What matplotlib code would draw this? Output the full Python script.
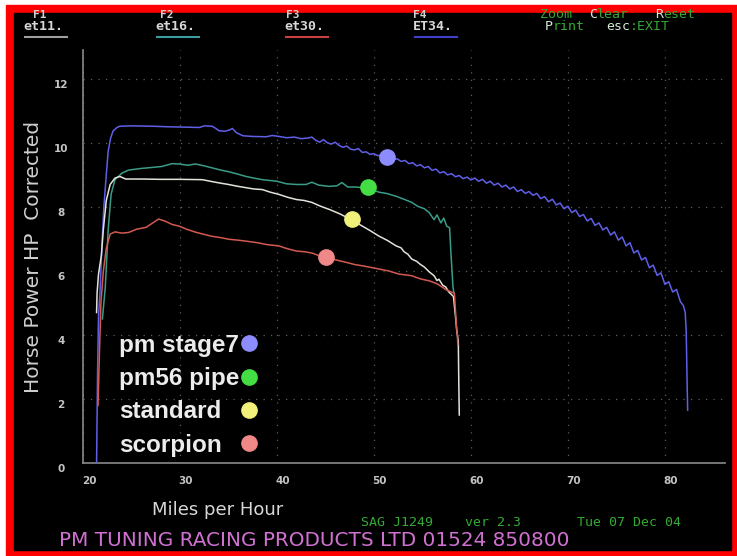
import matplotlib.pyplot as plt
import matplotlib.transforms as mtransforms
from matplotlib.lines import Line2D
from matplotlib.patches import Rectangle

# dyno run data (mph, corrected hp)
stage7_mph = [21.40, 21.50, 21.60, 21.75, 21.95, 22.15, 22.40, 22.60, 22.85, 23.10,
              23.50, 23.80, 25.00, 27.00, 29.00, 30.50, 32.00, 32.50, 33.30, 33.70,
              34.00, 34.60, 35.10, 35.40, 35.80, 36.50, 37.50, 38.90, 39.50, 40.20,
              41.00, 41.80, 42.50, 43.20, 43.60, 44.00, 44.40, 44.80, 45.20, 45.60,
              46.00, 46.40, 46.80, 47.20, 47.60, 48.00, 48.40, 48.80, 49.20, 49.60,
              50.00, 50.40, 50.80, 51.20, 51.60, 52.00, 52.40, 52.80, 53.20, 53.60,
              54.00, 54.40, 54.80, 55.20, 55.60, 56.00, 56.40, 56.80, 57.20, 57.60,
              58.00, 58.40, 58.80, 59.20, 59.60, 60.00, 60.40, 60.80, 61.20, 61.60,
              62.00, 62.40, 62.80, 63.20, 63.60, 64.00, 64.40, 64.80, 65.20, 65.60,
              66.00, 66.40, 66.80, 67.20, 67.60, 68.00, 68.40, 68.80, 69.20, 69.60,
              70.00, 70.40, 70.80, 71.20, 71.60, 72.00, 72.40, 72.80, 73.20, 73.60,
              74.00, 74.40, 74.80, 75.20, 75.60, 76.00, 76.40, 76.80, 77.20, 77.60,
              78.00, 78.40, 78.80, 79.20, 79.60, 80.00, 80.40, 80.80, 81.20, 81.60,
              81.90, 82.10, 82.20, 82.25, 82.30, 82.35]
stage7_hp = [0.00, 2.80, 4.60, 5.30, 6.80, 8.00, 9.00, 9.75, 10.15, 10.37,
             10.48, 10.52, 10.53, 10.52, 10.50, 10.49, 10.48, 10.53, 10.52, 10.45,
             10.38, 10.36, 10.40, 10.45, 10.32, 10.22, 10.20, 10.19, 10.23, 10.20,
             10.16, 10.18, 10.13, 10.15, 10.18, 10.08, 10.02, 10.10, 10.00, 9.96,
             10.02, 9.92, 9.86, 9.90, 9.80, 9.78, 9.82, 9.70, 9.72, 9.64,
             9.66, 9.60, 9.62, 9.54, 9.56, 9.48, 9.50, 9.42, 9.45, 9.35,
             9.38, 9.28, 9.32, 9.22, 9.26, 9.14, 9.18, 9.06, 9.10, 9.00,
             9.04, 8.94, 8.98, 8.88, 8.93, 8.84, 8.90, 8.80, 8.86, 8.74,
             8.80, 8.68, 8.74, 8.62, 8.68, 8.56, 8.62, 8.48, 8.54, 8.42,
             8.48, 8.36, 8.42, 8.26, 8.32, 8.16, 8.24, 8.06, 8.12, 7.94,
             8.02, 7.82, 7.90, 7.70, 7.76, 7.56, 7.64, 7.42, 7.50, 7.28,
             7.36, 7.12, 7.22, 6.96, 7.06, 6.78, 6.88, 6.56, 6.64, 6.34,
             6.42, 6.10, 6.18, 5.86, 5.94, 5.58, 5.66, 5.34, 5.42, 5.04,
             4.92, 4.70, 4.10, 3.20, 2.40, 1.65]

pipe_mph = [22.00, 22.30, 22.60, 22.90, 23.30, 24.00, 24.70, 26.00, 28.10, 29.20,
            29.90, 30.80, 31.60, 32.50, 33.30, 34.20, 35.00, 36.00, 36.80, 37.60,
            38.50, 40.00, 41.00, 42.00, 43.00, 43.60, 44.30, 45.40, 46.20, 46.70,
            47.30, 48.20, 49.30, 50.00, 50.50, 51.30, 52.30, 53.00, 53.90, 54.50,
            55.20, 55.70, 56.20, 56.50, 56.90, 57.20, 57.50, 57.80, 57.95, 58.05,
            58.15, 58.25]
pipe_hp = [4.50, 5.50, 7.30, 8.40, 8.85, 9.05, 9.15, 9.20, 9.26, 9.35,
           9.34, 9.30, 9.34, 9.28, 9.22, 9.15, 9.10, 9.02, 8.95, 8.90,
           8.85, 8.80, 8.72, 8.70, 8.70, 8.77, 8.68, 8.64, 8.66, 8.76,
           8.62, 8.62, 8.58, 8.52, 8.46, 8.42, 8.33, 8.25, 8.14, 8.02,
           7.94, 7.82, 7.60, 7.75, 7.50, 7.65, 7.40, 7.35, 6.50, 6.00,
           5.50, 5.30]

std_mph = [21.40, 21.45, 21.60, 21.90, 22.10, 22.40, 22.80, 23.30, 23.80, 24.40,
           26.00, 28.00, 30.00, 32.30, 33.30, 34.20, 35.00, 36.00, 36.80, 37.60,
           38.50, 39.30, 40.20, 41.10, 42.00, 42.80, 43.60, 44.50, 45.40, 46.50,
           47.60, 48.80, 49.60, 50.50, 51.40, 52.30, 52.80, 53.10, 53.50, 53.90,
           54.40, 54.80, 55.20, 55.70, 56.20, 56.50, 56.70, 57.10, 57.40, 57.70,
           58.20, 58.40, 58.55, 58.70, 58.75, 58.80]
std_hp = [4.70, 5.30, 5.90, 6.50, 7.30, 8.20, 8.70, 8.90, 8.95, 8.87,
          8.87, 8.86, 8.86, 8.85, 8.79, 8.74, 8.70, 8.64, 8.60, 8.56,
          8.54, 8.46, 8.39, 8.30, 8.23, 8.20, 8.14, 8.02, 7.92, 7.78,
          7.61, 7.40, 7.26, 7.09, 6.95, 6.78, 6.72, 6.60, 6.52, 6.37,
          6.30, 6.20, 6.12, 5.97, 5.85, 5.70, 5.74, 5.55, 5.50, 5.35,
          5.20, 4.60, 4.10, 3.80, 2.50, 1.50]

scorp_mph = [21.55, 21.70, 21.85, 22.10, 22.40, 22.80, 23.30, 24.00, 24.70, 25.50,
             26.50, 27.20, 27.80, 28.50, 29.20, 29.90, 30.70, 31.60, 32.50, 33.30,
             34.20, 35.00, 36.00, 36.80, 38.00, 39.00, 40.20, 41.00, 42.00, 42.80,
             43.60, 44.30, 45.00, 46.00, 47.10, 48.00, 49.00, 50.50, 51.50, 52.60,
             53.90, 54.80, 55.70, 56.50, 57.40, 57.90, 58.30, 58.40, 58.50, 58.60,
             58.65]
scorp_hp = [1.80, 3.50, 5.00, 6.00, 6.70, 7.15, 7.22, 7.18, 7.20, 7.30,
            7.36, 7.50, 7.62, 7.55, 7.45, 7.40, 7.30, 7.21, 7.14, 7.08,
            7.04, 6.99, 6.96, 6.93, 6.88, 6.82, 6.78, 6.70, 6.62, 6.60,
            6.56, 6.48, 6.43, 6.35, 6.27, 6.20, 6.15, 6.06, 6.00, 5.90,
            5.85, 5.75, 5.69, 5.60, 5.42, 5.35, 5.30, 4.80, 4.30, 4.00,
            3.70]

names = ['pm stage7', 'pm56 pipe', 'standard', 'scorpion']
line_colors = ['#5f5fe8', '#3a9c88', '#e2e2da', '#d25a50']
dot_colors = ['#8c8cff', '#44dd44', '#f0f07a', '#f08888']
dot_mph = [51.3, 49.4, 47.7, 45.05]
dot_hp = [9.55, 8.61, 7.62, 6.43]

W, H = 737, 556


def fx(x):
    return x / W


def fy(y):
    return 1 - y / H


fig = plt.figure(figsize=(W / 100, H / 100), dpi=100, facecolor='white')
fig.patches.append(Rectangle((fx(6), 0), 1 - fx(6), fy(5), transform=fig.transFigure,
                             color='#ff0000', zorder=-3))
fig.patches.append(Rectangle((fx(14), fy(550)), fx(731) - fx(14), fy(13) - fy(550),
                             transform=fig.transFigure, color='black', zorder=-2))

ax = fig.add_axes([fx(83), fy(463), fx(725) - fx(83), fy(50) - fy(463)])
ax.set_facecolor('none')
ax.set_xlim(20, 86.2)
ax.set_ylim(0, 12.9)

for s in ['top', 'right']:
    ax.spines[s].set_visible(False)
for s in ['left', 'bottom']:
    ax.spines[s].set_color('#8a8a8a')
    ax.spines[s].set_linewidth(1.2)

ax.set_xticks(range(20, 90, 10))
ax.set_yticks(range(0, 14, 2))
ax.tick_params(length=0, colors='#c4c4c4', labelsize=7.5)
ax.tick_params(axis='y', pad=16)
ax.tick_params(axis='x', pad=9)
for lbl in ax.get_yticklabels():
    lbl.set_fontweight('bold')
    lbl.set_horizontalalignment('center')
    lbl.set_transform(lbl.get_transform() +
                      mtransforms.ScaledTranslation(0, -0.05, fig.dpi_scale_trans))
for lbl in ax.get_xticklabels():
    lbl.set_fontweight('bold')
    lbl.set_transform(lbl.get_transform() +
                      mtransforms.ScaledTranslation(0.06, 0, fig.dpi_scale_trans))

ax.grid(True, color='#5c5c5c', linestyle=(0, (1, 5)), linewidth=0.9)

series = [(stage7_mph, stage7_hp), (pipe_mph, pipe_hp), (std_mph, std_hp), (scorp_mph, scorp_hp)]
for (xs, ys), c in zip(series, line_colors):
    ax.plot(xs, ys, color=c, lw=1.1, zorder=3)

for x, y, c in zip(dot_mph, dot_hp, dot_colors):
    ax.plot(x, y, 'o', ms=11, color=c, zorder=4)

# legend: names on the left, dots lined up on the right
leg_size = 17.5
pad_pts = 1.7
handles = [Line2D([], [], ls='none', marker='o', ms=11, color=c) for c in dot_colors]
leg = ax.legend(handles, names, loc='upper left', bbox_to_anchor=(fx(119), fy(334)),
                bbox_transform=fig.transFigure, frameon=False, markerfirst=False,
                handlelength=0.6, handletextpad=0.1, labelspacing=0.42,
                borderpad=0, borderaxespad=0,
                prop={'family': 'Liberation Sans', 'weight': 'bold', 'size': leg_size})
for t in leg.get_texts():
    t.set_color('#ececec')

ax.set_ylabel('Horse Power HP  Corrected', color='#cfcfcf', fontsize=14.5)
ax.yaxis.set_label_coords(-0.062, 0.5)

fig.text(fx(218), fy(510), 'Miles per Hour', color='#d8d8d8', fontsize=13,
         ha='center', va='center')
fig.text(fx(59), fy(541), 'PM TUNING RACING PRODUCTS LTD 01524 850800', color='#d070d0',
         fontsize=14.4, ha='left', va='center')

mono = 'DejaVu Sans Mono'
green = '#33aa33'
msize = 9.5
cw = 0.602 * msize * 100 / 72  # mono char width in px
for x, s in [(361, 'SAG J1249'), (465, 'ver 2.3'), (577, 'Tue 07 Dec 04')]:
    fig.text(fx(x), fy(522), s, color=green, fontsize=msize, family=mono, va='center')

# function key labels along the top
keys = [(33, 23, 'F1', 'et11.', '#a0a0a0'),
        (160, 155, 'F2', 'et16.', '#3a9c9c'),
        (286, 284, 'F3', 'et30.', '#c84040'),
        (413, 413, 'F4', 'ET34.', '#4040c8')]
for kx, lx, k, lab, uc in keys:
    fig.text(fx(kx), fy(15), k, color='#d0d0d0', fontsize=8, family=mono,
             weight='bold', va='center')
    fig.text(fx(lx), fy(27), lab, color='#d8d8d8', fontsize=msize, family=mono,
             weight='bold', va='center')
    fig.add_artist(Line2D([fx(lx + 2), fx(lx + 44)], [fy(37), fy(37)], color=uc, lw=1.5))

menu = [(540, 15, '', 'Zoom'), (589, 15, 'C', 'lear'), (655, 15, 'R', 'eset'),
        (545, 27, 'P', 'rint'), (606, 27, 'esc', ':EXIT')]
for mx, my, hi, rest in menu:
    if hi:
        fig.text(fx(mx), fy(my), hi, color='#d8e8d8', fontsize=msize, family=mono, va='center')
    fig.text(fx(mx + len(hi) * cw), fy(my), rest, color=green, fontsize=msize,
             family=mono, va='center')

# left-align the legend names while keeping the dots in one column
fig.canvas.draw()
rend = fig.canvas.get_renderer()
widths = [t.get_window_extent(rend).width for t in leg.get_texts()]
rows = leg._legend_handle_box.get_children()[0].get_children()
for row, w in zip(rows, widths):
    row.sep = pad_pts + (max(widths) - w) * 72 / fig.dpi

plt.savefig('out.png', dpi=100, facecolor=fig.get_facecolor())
